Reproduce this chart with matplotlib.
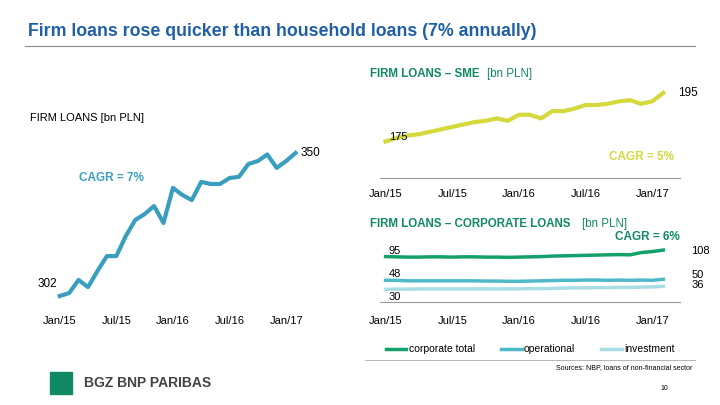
import numpy as np
import matplotlib.pyplot as plt
from matplotlib.lines import Line2D

months = np.arange(26)  # Jan/15 .. Feb/17
tick_pos = [0, 6, 12, 18, 24]
tick_labels = ["Jan/15", "Jul/15", "Jan/16", "Jul/16", "Jan/17"]

firm = [302, 303, 307.4, 305, 310.4, 315.4, 315.4, 322.1, 327.5, 329.5, 332.2, 326.5, 338.3,
        335.9, 334.2, 340.3, 339.6, 339.6, 341.6, 342, 346.3, 347.3, 349.5, 345, 347.3, 350]
sme = [175, 176.5, 177.5, 178, 179, 180, 181, 182, 183, 183.5, 184.5, 183.5, 186, 186, 184.5,
       187.5, 187.5, 188.5, 190, 190, 190.5, 191.5, 192, 190.5, 191.5, 195]
corp = [95, 94.5, 94, 94, 94.5, 94.5, 94, 94.5, 94.5, 94, 94, 93.5, 94, 94.5, 95, 96, 96.5, 97,
        97.5, 98, 98.5, 99, 98.5, 103, 105, 108]
oper = [48, 48, 47, 47, 47, 47, 47, 47, 47, 46.5, 46.5, 46, 46, 46.5, 47, 47.5, 48, 48, 48.5,
        48.5, 48, 48.5, 48, 48.5, 48, 50]
inv = [30, 30.5, 30.5, 31, 31, 31, 31, 31, 31, 31, 31, 31, 31, 31.5, 31.5, 32, 32.5, 33, 33,
       33.5, 33.5, 34, 34, 34.5, 35, 36]

W, H = 720, 405
fig = plt.figure(figsize=(7.2, 4.05), dpi=100)
plt.rcParams['font.family'] = ['Liberation Sans', 'DejaVu Sans']

def box(x0, y0, x1, y1):
    return [x0 / W, 1 - y1 / H, (x1 - x0) / W, (y1 - y0) / H]

fig.text(28 / W, 1 - 31 / H, "Firm loans rose quicker than household loans (7% annually)",
         color="#1f5fa8", fontsize=12.8, fontweight="bold", va="center")
fig.add_artist(Line2D([25 / W, 695 / W], [1 - 46 / H] * 2, color="#8a8a8a", lw=0.8))

# left chart
ax1 = fig.add_axes(box(55, 150, 305, 302))
ax1.plot(months, firm, color="#3a9fbf", lw=3)
ax1.set_xlim(-0.5, 26)
ax1.set_ylim(300, 351)
for s in ax1.spines.values():
    s.set_visible(False)
ax1.set_yticks([])
ax1.set_xticks(tick_pos, tick_labels, fontsize=8)
ax1.tick_params(length=0, pad=10)
ax1.text(-0.3, 304, "302", fontsize=8.5, ha="right", va="bottom")
ax1.text(25.5, 350, "350", fontsize=8.5, ha="left", va="center")
ax1.text(2, 340.5, "CAGR = 7%", fontsize=8.5, color="#3a9fbf", fontweight="bold")
fig.text(30 / W, 1 - 118 / H, "FIRM LOANS [bn PLN]", fontsize=8, va="center")

# SME chart
ax2 = fig.add_axes(box(380, 88, 680, 178))
ax2.plot(months, sme, color="#d4d93c", lw=3)
ax2.set_xlim(-0.5, 26.5)
ax2.set_ylim(160, 197)
for k in ["top", "right", "left"]:
    ax2.spines[k].set_visible(False)
ax2.spines["bottom"].set_color("#999999")
ax2.set_yticks([])
ax2.set_xticks(tick_pos, tick_labels, fontsize=8)
ax2.tick_params(length=0, pad=8)
ax2.text(0.3, 175, "175", fontsize=8, va="bottom")
ax2.text(26.3, 195, "195", fontsize=8.5, va="center")
ax2.text(26, 167.5, "CAGR = 5%", fontsize=8.5, color="#d4d93c", fontweight="bold", ha="right")
fig.text(370 / W, 1 - 74 / H, "FIRM LOANS \u2013 SME", fontsize=8.3, fontweight="bold",
         color="#0f8a64", va="center")
fig.text(487 / W, 1 - 74 / H, "[bn PLN]", fontsize=8.3, color="#0f8a64", va="center")

# corporate chart
ax3 = fig.add_axes(box(380, 245, 680, 302))
ax3.plot(months, corp, color="#13a06a", lw=2.5, label="corporate total")
ax3.plot(months, oper, color="#4fb8c9", lw=2.5, label="operational")
ax3.plot(months, inv, color="#a9dde4", lw=2.5, label="investment")
ax3.set_xlim(-0.5, 26.5)
ax3.set_ylim(5, 118)
for k in ["top", "right", "left"]:
    ax3.spines[k].set_visible(False)
ax3.spines["bottom"].set_color("#999999")
ax3.set_yticks([])
ax3.set_xticks(tick_pos, tick_labels, fontsize=8)
ax3.tick_params(length=0, pad=10)
ax3.text(0.3, 97, "95", fontsize=8, va="bottom")
ax3.text(0.3, 51, "48", fontsize=8, va="bottom")
ax3.text(0.3, 25, "30", fontsize=8, va="top")
ax3.text(27.5, 106, "108", fontsize=8, va="center")
ax3.text(27.5, 58, "50", fontsize=8, va="center")
ax3.text(27.5, 38, "36", fontsize=8, va="center")
ax3.legend(loc="upper center", bbox_to_anchor=(0.5, -0.58), ncol=3, frameon=False,
           fontsize=7.5, handlelength=2, handletextpad=0.2, columnspacing=2.5)
fig.text(370 / W, 1 - 224 / H, "FIRM LOANS \u2013 CORPORATE LOANS", fontsize=8.3,
         fontweight="bold", color="#0f8a64", va="center")
fig.text(582 / W, 1 - 224 / H, "[bn PLN]", fontsize=8.3, color="#0f8a64", va="center")
fig.text(680 / W, 1 - 237 / H, "CAGR = 6%", fontsize=8.5, color="#0f8a64",
         fontweight="bold", ha="right", va="center")
fig.add_artist(Line2D([365 / W, 695 / W], [1 - 360 / H] * 2, color="#aaaaaa", lw=0.6))

# footer
fig.text(692 / W, 1 - 368 / H, "Sources: NBP, loans of non-financial sector", fontsize=5,
         ha="right", va="center")
fig.text(668 / W, 1 - 388 / H, "10", fontsize=5, ha="right", va="center")
fig.patches.append(plt.Rectangle((50 / W, 1 - 394 / H), 22 / W, 22 / H, color="#0f8a64",
                                 transform=fig.transFigure, figure=fig))
fig.text(84 / W, 1 - 383 / H, "BGZ BNP PARIBAS", fontsize=10, fontweight="bold",
         color="#444444", va="center")

fig.savefig("out.png", dpi=100)
